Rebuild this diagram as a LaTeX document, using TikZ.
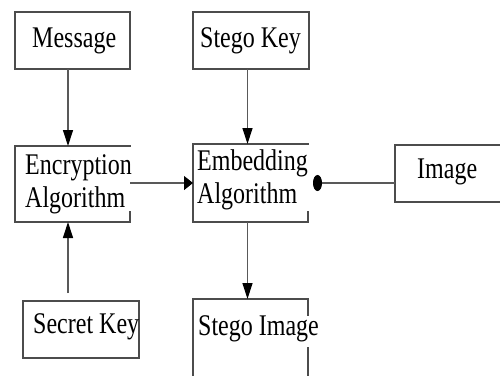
\documentclass[tikz,border=0pt]{standalone}
\usepackage{fontspec}
\setmainfont{Liberation Serif}
\usetikzlibrary{arrows.meta,calc}

\newcommand{\lbltext}[1]{\scalebox{1}[1.25]{\fontsize{24}{26.4}\selectfont\begin{tabular}[b]{@{}l@{}}#1\end{tabular}}}

\tikzset{
  slot/.style={draw=none, rectangle, inner sep=0pt, outer sep=0pt,
               minimum width=#1},
  edgeline/.style={draw=black!70, line width=1.6pt, line cap=rect},
  lbl/.style={anchor=base west, inner sep=0pt, text=black},
  flow/.style={draw=black!65, line width=1.2pt},
  downtip/.style={-{Triangle[length=16pt,width=10pt,color=black]}},
  sidetip/.style={-{Triangle[length=9pt,width=14pt,color=black]}},
  roundtip/.style={-{Circle[length=9pt,width=16pt,color=black]}},
}

\begin{document}
\begin{tikzpicture}[x=1pt,y=-1pt]
  \fill[white] (0,0) rectangle (500,375);
  \useasboundingbox (0,0) rectangle (500,375);

  % frames of the seven blocks
  \node[slot=115pt, minimum height=57pt] (msg)  at (72.5,40.5) {};
  \node[slot=116pt, minimum height=57pt] (skey) at (251,40.5) {};
  \node[slot=115pt, minimum height=76pt] (enc)  at (72.5,184) {};
  \node[slot=115pt, minimum height=78pt] (emb)  at (250.5,183) {};
  \node[slot=115pt, minimum height=57pt] (img)  at (452.5,173.5) {};
  \node[slot=116pt, minimum height=57pt] (sec)  at (81,329.5) {};
  \node[slot=115pt, minimum height=86pt] (simg) at (250.5,342) {};

  \draw[edgeline] (msg.north west) rectangle (msg.south east);
  \draw[edgeline] (skey.north west) rectangle (skey.south east);
  \draw[edgeline] (sec.north west) rectangle (sec.south east);
  \draw[edgeline] (enc.north east) -- (enc.north west) -- (enc.south west)
                  -- (enc.south east) -- ([yshift=10pt]enc.south east);
  \draw[edgeline] (emb.north east) -- (emb.north west) -- (emb.south west)
                  -- (emb.south east) -- ([yshift=10pt]emb.south east);
  \draw[edgeline] (img.north east) -- (img.north west) -- (img.south west)
                  -- (img.south east);
  \draw[edgeline] (simg.south west) -- (simg.north west) -- (simg.north east)
                  -- ([yshift=-16pt]simg.north east);
  \draw[edgeline] ([yshift=-49pt]simg.north east) -- (simg.south east);

  % labels
  \node[lbl] (msgtxt)  at (32,47)   {\lbltext{Message}};
  \node[lbl] (skeytxt) at (200,47)  {\lbltext{Stego Key}};
  \node[lbl] (enctxt)  at (25,207)  {\lbltext{Encryption\\Algorithm}};
  \node[lbl] (embtxt)  at (197,203) {\lbltext{Embedding\\Algorithm}};
  \node[lbl] (imgtxt)  at (417,178) {\lbltext{Image}};
  \node[lbl] (sectxt)  at (33,333)  {\lbltext{Secret Key}};
  \node[lbl] (simgtxt) at (198,335) {\lbltext{Stego Image}};

  % connectors
  \draw[flow,downtip] ([xshift=-4.5pt]msg.south) -- ([xshift=-4.5pt]enc.north);
  \draw[flow,downtip,shorten <=8pt] ([xshift=-4.5pt]enc.south |- sec.north)
                                   -- ([xshift=-4.5pt]enc.south);
  \draw[flow,downtip] ([xshift=-3.5pt]skey.south) -- ([xshift=-3pt]emb.north);
  \draw[flow,downtip] ([xshift=-3pt]emb.south) -- ([xshift=-3pt]simg.north);
  \draw[flow,sidetip] ([yshift=1pt]enc.east) -- ([yshift=1pt]enc.east -| emb.west);
  \draw[flow,roundtip,shorten >=5pt] ([yshift=-9.5pt]img.west)
                                     -- ([yshift=-9.5pt]img.west -| emb.east);
\end{tikzpicture}
\end{document}
